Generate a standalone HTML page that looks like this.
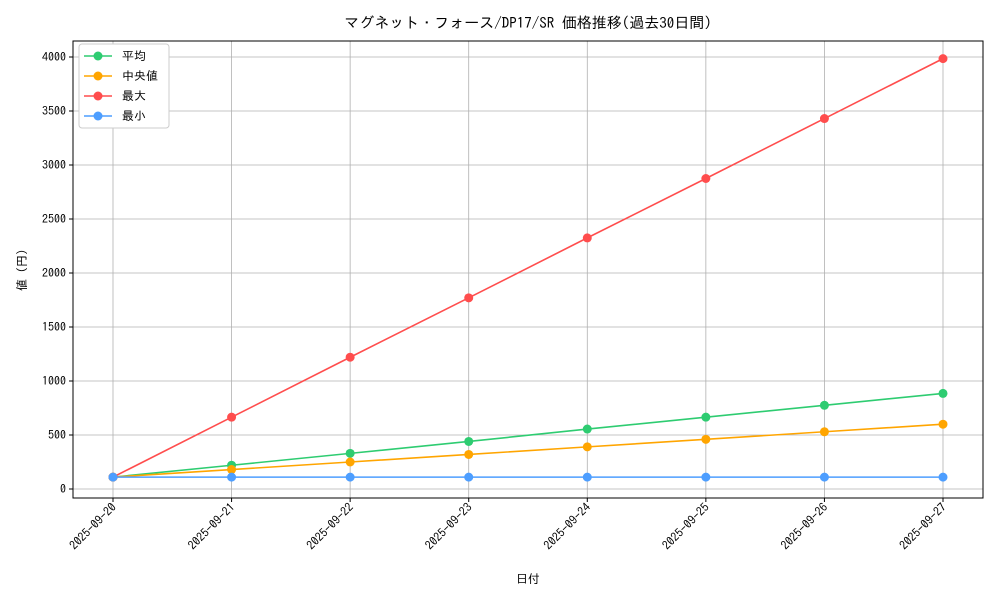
<!DOCTYPE html>
<html><head><meta charset="utf-8"><style>
body{margin:0;background:#fff;}
svg text{font-family:"IPAGothic","Noto Sans CJK JP",sans-serif;fill:#000;}
</style></head><body>
<svg id="chart" width="1000" height="600" xmlns="http://www.w3.org/2000/svg">
<rect width="1000" height="600" fill="#fff"/>
<text x="528" y="28" font-size="15" text-anchor="middle">マグネット・フォース/DP17/SR 価格推移(過去30日間)</text>
<g id="grid"></g><g id="axes"></g><g id="series"></g>
<text x="528" y="583" font-size="12" text-anchor="middle">日付</text>
<text x="26" y="270" font-size="12" text-anchor="middle" transform="rotate(-90 26 270)">値 (円)</text>
<g id="legend"></g>
</svg>
<script>
const categories=["2025-09-20","2025-09-21","2025-09-22","2025-09-23","2025-09-24","2025-09-25","2025-09-26","2025-09-27"];
const meanVals=[110,220,330,440,555,665,775,885];
const medianVals=[110,180,250,320,390,460,530,600];
const maxVals=[110,665,1220,1770,2325,2875,3430,3985];
const minVals=[110,110,110,110,110,110,110,110];
const yTicks=[0,500,1000,1500,2000,2500,3000,3500,4000];
const seriesNames=["平均","中央値","最大","最小"];
const NS="http://www.w3.org/2000/svg";
const L=73,R=983,T=41,B=498;
const x0=113,x1=943;
function xs(i){return x0+(x1-x0)*i/(categories.length-1);}
function ys(v){return 489-v*0.108;}
function mk(tag,attrs,parent){const e=document.createElementNS(NS,tag);for(const k in attrs)e.setAttribute(k,attrs[k]);parent.appendChild(e);return e;}
const grid=document.getElementById('grid'),axes=document.getElementById('axes'),ser=document.getElementById('series'),leg=document.getElementById('legend');
categories.forEach((c,i)=>{
 const g=mk('line',{x1:xs(i),x2:xs(i),y1:T,y2:B,stroke:'#b0b0b0','stroke-width':0.8},grid);
 
 
 const t=mk('line',{x1:xs(i),x2:xs(i),y1:B,y2:B+4,stroke:'#000'},axes);
 
 
 const tx=mk('text',{x:xs(i)+4,y:B+10,'font-size':12,'text-anchor':'end',transform:`rotate(-45 ${xs(i)+4} ${B+10})`},axes);
 tx.textContent=c;
 
 
});
yTicks.forEach(v=>{
 const g=mk('line',{x1:L,x2:R,y1:ys(v),y2:ys(v),stroke:'#b0b0b0','stroke-width':0.8},grid);
 
 
 const t=mk('line',{x1:L-4,x2:L,y1:ys(v),y2:ys(v),stroke:'#000'},axes);
 
 
 const tx=mk('text',{x:L-7,y:ys(v)+4,'font-size':12,'text-anchor':'end'},axes);
 tx.textContent=v;
 
 
});
const frame=mk('rect',{x:L,y:T,width:R-L,height:B-T,fill:'none',stroke:'#000','stroke-width':1},axes);


const data=[meanVals,medianVals,maxVals,minVals];
const colors=['#2ecc71','#ffa500','#ff4d4d','#4d9eff'];
const keys=['mean','median','max','min'];
data.forEach((arr,s)=>{
 const g=mk('g',{},ser);
 
 
 const pl=mk('polyline',{points:arr.map((v,i)=>xs(i)+','+ys(v)).join(' '),fill:'none',stroke:colors[s],'stroke-width':1.6},g);
 
 
 arr.forEach((v,i)=>{
  const c=mk('circle',{cx:xs(i),cy:ys(v),r:4.5,fill:colors[s]},g);
  
  
 });
});
const box=mk('rect',{x:79,y:44,width:90,height:84,rx:3,fill:'#fff',stroke:'#ccc'},leg);


seriesNames.forEach((n,s)=>{
 const y=56+s*20;
 const g=mk('g',{},leg);
 
 
 mk('line',{x1:84,x2:112,y1:y,y2:y,stroke:colors[s],'stroke-width':1.6},g);
 mk('circle',{cx:98,cy:y,r:4.5,fill:colors[s]},g);
 const t=mk('text',{x:122,y:y+4,'font-size':12},g);
 t.textContent=n;
});
</script>
</body></html>
